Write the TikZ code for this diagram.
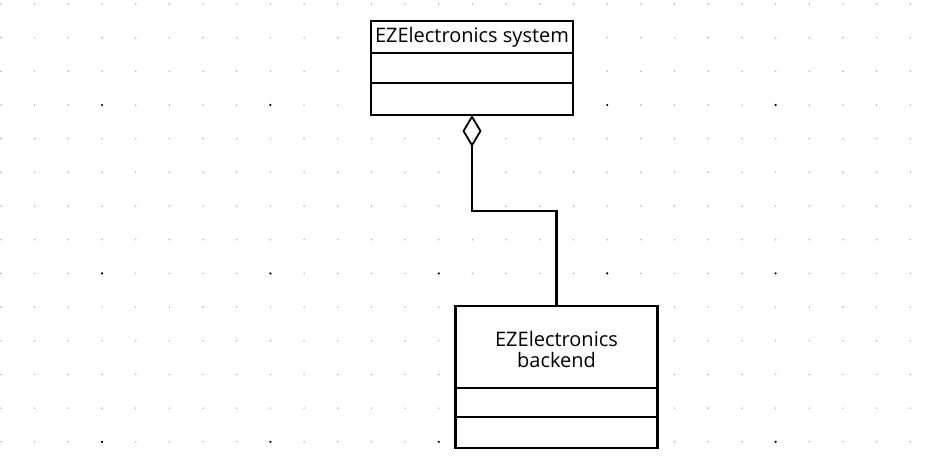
\documentclass[tikz,border=0pt]{standalone}
\usepackage{fontspec}
\setmainfont{Open Sans}
\usepackage{tikz}
\usetikzlibrary{arrows.meta,positioning}

\begin{document}
\begin{tikzpicture}[x=1pt,y=-1pt,comp/.style={draw=black,line width=1.6pt,fill=white,inner sep=0pt,outer sep=0pt,minimum width=202pt,align=center,font=\fontsize{20}{20.5}\selectfont},agg/.style={{Diamond[open,length=32pt,width=19pt,line width=1.8pt]}-,line width=2.8pt,draw=black}]
\fill[white] (0,0) rectangle (940,469);
\useasboundingbox (0,0) rectangle (940,469);
\foreach \i in {0,...,27}{\foreach \j in {0,...,13}{\fill[black!28] (0.96+33.68*\i,3.96+33.68*\j) circle (0.9);}}
\foreach \i in {3,8,13,18,23}{\foreach \j in {3,8,13}{\fill[black] (0.96+33.68*\i,3.96+33.68*\j) circle (1.2);}}
\node[comp,minimum height=32pt] (sysHead) at (472,37) {EZElectronics system};
\node[comp,minimum height=30pt,below=0pt of sysHead] (sysAttr) {};
\node[comp,minimum height=32pt,below=0pt of sysAttr] (sysOps) {};
\node[comp,minimum height=82pt] (backHead) at (556.5,347) {\rule{0pt}{20pt}EZElectronics\\backend};
\node[comp,minimum height=29pt,below=0pt of backHead] (backAttr) {};
\node[comp,minimum height=31pt,below=0pt of backAttr] (backOps) {};
\draw[line width=2.6pt] (sysHead.north west) rectangle (sysOps.south east); \draw[line width=2.6pt] (backHead.north west) rectangle (backOps.south east);
\draw[agg] (sysOps.south) -- ++(0,96) -| (backHead.north);
\end{tikzpicture}
\end{document}
